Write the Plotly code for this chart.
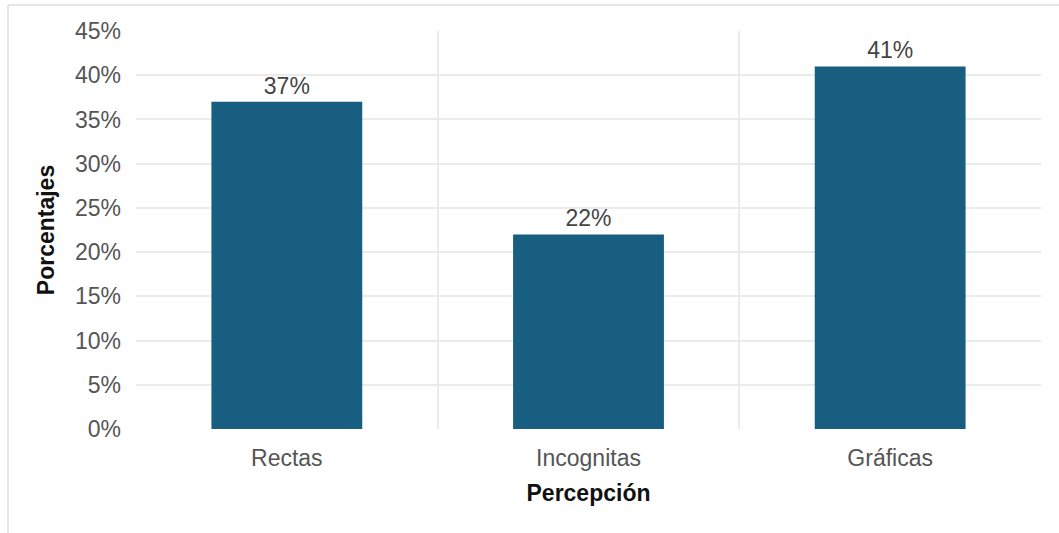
import plotly.graph_objects as go

categorias = ["Rectas", "Incognitas", "Gráficas"]
porcentajes = [37, 22, 41]
etiquetas = ["37%", "22%", "41%"]
y_ticks = [0, 5, 10, 15, 20, 25, 30, 35, 40, 45]
y_tick_text = ["0%", "5%", "10%", "15%", "20%", "25%", "30%", "35%", "40%", "45%"]

BAR_COLOR = "#175e80"
GRID = "#ebebeb"
FONT = "Liberation Sans, Arial, sans-serif"

fig = go.Figure()
fig.add_trace(go.Bar(
    x=categorias,
    y=porcentajes,
    text=etiquetas,
    textposition="outside",
    textfont=dict(family=FONT, size=23, color="#444444"),
    marker=dict(color=BAR_COLOR, line=dict(width=0)),
    width=0.5,
    cliponaxis=False,
    showlegend=False,
))

# invisible helper trace so the overlay axis (category separators) is drawn
fig.add_trace(go.Scatter(x=[-0.5, 2.5], y=[0, 0], xaxis="x2", mode="markers",
                         marker=dict(opacity=0), hoverinfo="skip", showlegend=False))

fig.update_layout(
    width=1059, height=533,
    margin=dict(l=136, r=18, t=31, b=104),
    paper_bgcolor="white",
    plot_bgcolor="white",
    font=dict(family=FONT, size=23, color="#555555"),
    bargap=0.5,
    xaxis=dict(
        type="category",
        range=[-0.5, 2.5],
        showgrid=False,
        showline=False,
        ticks="",
        tickfont=dict(size=23, color="#555555"),
        ticklabelstandoff=13,
        title=dict(text="<b>Percepción</b>", font=dict(size=23, color="#111111"), standoff=14),
    ),
    xaxis2=dict(
        overlaying="x",
        range=[-0.5, 2.5],
        tickvals=[0.5, 1.5],
        showticklabels=False,
        showgrid=True,
        gridcolor=GRID,
        gridwidth=2,
        zeroline=False,
        showline=False,
        ticks="",
    ),
    yaxis=dict(
        range=[0, 45],
        tickvals=y_ticks,
        ticktext=y_tick_text,
        showgrid=True,
        gridcolor=GRID,
        gridwidth=2,
        zeroline=False,
        showline=False,
        ticks="",
        tickfont=dict(size=23, color="#555555"),
        ticklabelstandoff=14,
        title=dict(text="<b>Porcentajes</b>", font=dict(size=23, color="#111111"), standoff=13),
    ),
    shapes=[
        dict(type="line", xref="paper", yref="paper", x0=-0.1414, x1=1.03, y0=1.0653, y1=1.0653,
             line=dict(color="#e6e6e6", width=2), layer="below"),
        dict(type="line", xref="paper", yref="paper", x0=-0.1414, x1=-0.1414, y0=1.0653, y1=-0.27,
             line=dict(color="#e6e6e6", width=2), layer="below"),
    ],
)

fig.write_html("out.html")
